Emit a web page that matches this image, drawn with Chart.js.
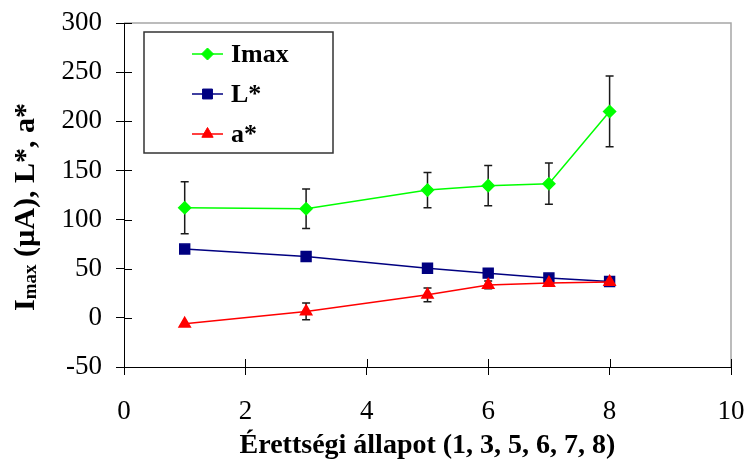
<!DOCTYPE html>
<html>
<head>
<meta charset="utf-8">
<title>Érettségi állapot</title>
<script src="https://cdn.jsdelivr.net/npm/chart.js@4.4.0/dist/chart.umd.min.js"></script>
<style>
  body { margin: 0; background: #fff; }
</style>
</head>
<body>
<canvas id="ripening-chart" width="746" height="461"></canvas>
<script>
// ripening stages on the x axis
const stages = [1, 3, 5, 6, 7, 8];

// measured series and their standard deviations
const imaxValues = [112, 111, 130, 134.5, 136.5, 210];
const imaxErrors = [26.5, 20, 18, 20.5, 21, 36];
const lStarValues = [70, 62.5, 50.5, 45.5, 40.5, 37];
const aStarValues = [-6, 6.5, 23.5, 33.5, 35.5, 36.5];
const aStarErrors = [0, 8.5, 7, 4, 1.5, 1];

const seriesLabels = ['Imax', 'L*', 'a*'];
const xTitle = 'Érettségi állapot (1, 3, 5, 6, 7, 8)';

const serif = '"Liberation Serif", "Times New Roman", serif';

function toPoints(values) {
  return stages.map((x, i) => ({ x: x, y: values[i] }));
}

function markPoint(ctx, style, radius, x, y) {
  if (Chart.helpers && Chart.helpers.drawPoint) {
    Chart.helpers.drawPoint(ctx, { pointStyle: style, radius: radius, rotation: 0, borderWidth: 1 }, x, y);
  }
}

// grey frame on the top and right of the plot area
const plotFrame = {
  id: 'plotFrame',
  beforeDatasetsDraw(chart) {
    const { ctx, chartArea: a } = chart;
    ctx.save();
    ctx.strokeStyle = '#a6a6a6';
    ctx.lineWidth = 1.5;
    ctx.beginPath();
    ctx.moveTo(a.left, a.top);
    ctx.lineTo(a.right, a.top);
    ctx.lineTo(a.right, a.bottom);
    ctx.stroke();
    ctx.restore();
  },
};

// tick marks cross the axis lines: draw the inner half here
const innerTicks = {
  id: 'innerTicks',
  afterDatasetsDraw(chart) {
    const { ctx, chartArea: a, scales } = chart;
    ctx.save();
    ctx.strokeStyle = '#000';
    ctx.lineWidth = 1;
    ctx.beginPath();
    scales.y.ticks.forEach((t) => {
      const py = Math.round(scales.y.getPixelForValue(t.value)) + 0.5;
      ctx.moveTo(a.left, py);
      ctx.lineTo(a.left + 8, py);
    });
    scales.x.ticks.forEach((t) => {
      const px = Math.round(scales.x.getPixelForValue(t.value)) + 0.5;
      ctx.moveTo(px, a.bottom);
      ctx.lineTo(px, a.bottom - 8);
    });
    ctx.stroke();
    ctx.restore();
  },
};

const errorBars = {
  id: 'errorBars',
  beforeDatasetsDraw(chart) {
    const { ctx, scales } = chart;
    ctx.save();
    ctx.strokeStyle = '#1a1a1a';
    ctx.lineWidth = 1.5;
    chart.data.datasets.forEach((ds) => {
      if (!ds.errorBars) return;
      ds.data.forEach((p, i) => {
        const err = ds.errorBars[i];
        if (!err) return;
        const px = scales.x.getPixelForValue(p.x);
        const top = scales.y.getPixelForValue(p.y + err);
        const bottom = scales.y.getPixelForValue(p.y - err);
        ctx.beginPath();
        ctx.moveTo(px, top);
        ctx.lineTo(px, bottom);
        ctx.moveTo(px - 4, top);
        ctx.lineTo(px + 4, top);
        ctx.moveTo(px - 4, bottom);
        ctx.lineTo(px + 4, bottom);
        ctx.stroke();
      });
    });
    ctx.restore();
  },
};

// y title with the "max" subscript
const yTitle = {
  id: 'yTitle',
  afterDraw(chart) {
    const ctx = chart.ctx;
    const big = 'bold 30px ' + serif;
    const small = 'bold 19px ' + serif;
    const rest = ' (µA), L*, a*';
    ctx.save();
    ctx.fillStyle = '#000';
    ctx.textBaseline = 'alphabetic';
    ctx.font = big;
    const wI = ctx.measureText('I').width;
    const wRest = ctx.measureText(rest).width;
    ctx.font = small;
    const wSub = ctx.measureText('max').width;
    const total = wI + wSub + wRest;
    ctx.translate(34, 207);
    ctx.rotate(-Math.PI / 2);
    let x = -total / 2;
    ctx.font = big;
    ctx.fillText('I', x, 0);
    x += wI;
    ctx.font = small;
    ctx.fillText('max', x, 2);
    x += wSub;
    ctx.font = big;
    ctx.fillText(rest, x, 0);
    ctx.restore();
  },
};

// legend box inside the plot area
const boxLegend = {
  id: 'boxLegend',
  afterDraw(chart) {
    const ctx = chart.ctx;
    ctx.save();
    ctx.fillStyle = '#fff';
    ctx.fillRect(144, 32, 189, 121);
    ctx.strokeStyle = '#333';
    ctx.lineWidth = 1.5;
    ctx.strokeRect(144, 32, 189, 121);
    chart.data.datasets.forEach((ds, i) => {
      const cy = 54 + i * 40;
      ctx.strokeStyle = ds.borderColor;
      ctx.lineWidth = ds.borderWidth;
      ctx.beginPath();
      ctx.moveTo(192, cy);
      ctx.lineTo(223, cy);
      ctx.stroke();
      ctx.fillStyle = ds.pointBackgroundColor;
      ctx.strokeStyle = ds.pointBorderColor;
      ctx.lineWidth = 1;
      markPoint(ctx, ds.pointStyle, ds.pointRadius, 207.5, cy);
      ctx.fillStyle = '#000';
      ctx.font = 'bold 26px ' + serif;
      ctx.textBaseline = 'middle';
      ctx.fillText(ds.label, 231, cy + 1);
    });
    ctx.restore();
  },
};

const axisStyle = {
  border: { color: '#000', width: 1 },
  grid: { drawOnChartArea: false, drawTicks: true, tickLength: 8, color: '#000' },
};

new Chart(document.getElementById('ripening-chart'), {
  type: 'line',
  data: {
    datasets: [
      {
        label: seriesLabels[0],
        data: toPoints(imaxValues),
        errorBars: imaxErrors,
        borderColor: '#00ff00',
        backgroundColor: '#00ff00',
        pointBackgroundColor: '#00ff00',
        pointBorderColor: '#00ff00',
        pointStyle: 'rectRot',
        pointRadius: 6,
        borderWidth: 1.5,
        order: 3,
      },
      {
        label: seriesLabels[1],
        data: toPoints(lStarValues),
        borderColor: '#000080',
        backgroundColor: '#000080',
        pointBackgroundColor: '#000080',
        pointBorderColor: '#000080',
        pointStyle: 'rect',
        pointRadius: 7,
        borderWidth: 1.5,
        order: 2,
      },
      {
        label: seriesLabels[2],
        data: toPoints(aStarValues),
        errorBars: aStarErrors,
        borderColor: '#ff0000',
        backgroundColor: '#ff0000',
        pointBackgroundColor: '#ff0000',
        pointBorderColor: '#ff0000',
        pointStyle: 'triangle',
        pointRadius: 6.5,
        borderWidth: 1.5,
        order: 1,
      },
    ],
  },
  options: {
    responsive: false,
    animation: false,
    devicePixelRatio: 1,
    layout: { padding: { top: 23, right: 15, left: 0, bottom: 0 } },
    plugins: {
      legend: { display: false },
      tooltip: { enabled: false },
    },
    scales: {
      x: {
        type: 'linear',
        min: 0,
        max: 10,
        ...axisStyle,
        ticks: {
          stepSize: 2,
          color: '#000',
          padding: 21,
          font: { family: serif, size: 27 },
        },
        title: {
          display: true,
          text: xTitle,
          color: '#000',
          padding: { top: 0, bottom: 1 },
          font: { family: serif, size: 28, weight: 'bold', lineHeight: 1 },
        },
        afterFit(scale) {
          scale.height = 94;
          scale.paddingLeft = 0;
          scale.paddingRight = 0;
        },
      },
      y: {
        type: 'linear',
        min: -50,
        max: 300,
        ...axisStyle,
        ticks: {
          stepSize: 50,
          color: '#000',
          padding: 14,
          font: { family: serif, size: 27 },
        },
        afterFit(scale) {
          scale.width = 124;
          scale.paddingTop = 0;
          scale.paddingBottom = 0;
        },
      },
    },
  },
  plugins: [plotFrame, errorBars, innerTicks, yTitle, boxLegend],
});
</script>
</body>
</html>
